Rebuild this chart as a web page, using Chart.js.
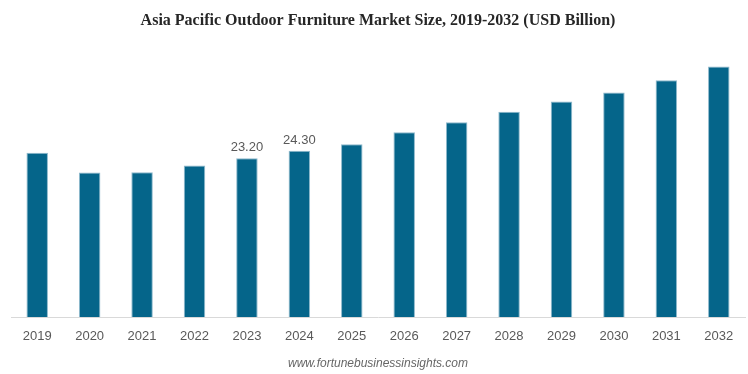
<!DOCTYPE html>
<html>
<head>
<meta charset="utf-8">
<script src="https://cdn.jsdelivr.net/npm/chart.js@4/dist/chart.umd.min.js"></script>
<style>
  html, body { margin: 0; padding: 0; background: #fff; }
  #wrap { width: 748px; height: 374px; position: relative; }
</style>
</head>
<body>
<div id="wrap"><canvas id="marketChart"></canvas></div>
<script>
const years = ['2019', '2020', '2021', '2022', '2023', '2024', '2025', '2026', '2027', '2028', '2029', '2030', '2031', '2032'];
const marketSize = [24.0, 21.1, 21.15, 22.15, 23.2, 24.3, 25.25, 26.98, 28.45, 30.0, 31.47, 32.78, 34.58, 36.58];
const labelledYears = ['2023', '2024'];

// value labels only above the two highlighted years
const valueLabels = {
  id: 'valueLabels',
  afterDatasetsDraw(chart) {
    const { ctx } = chart;
    const meta = chart.getDatasetMeta(0);
    ctx.save();
    ctx.font = '13px "Liberation Sans", Arial, sans-serif';
    ctx.fillStyle = '#595959';
    ctx.textAlign = 'center';
    ctx.textBaseline = 'bottom';
    meta.data.forEach((bar, i) => {
      if (!labelledYears.includes(years[i])) return;
      ctx.fillText(marketSize[i].toFixed(2), bar.x, bar.y - 4);
    });
    ctx.restore();
  },
};

new Chart(document.getElementById('marketChart'), {
  type: 'bar',
  data: {
    labels: years,
    datasets: [{
      data: marketSize,
      backgroundColor: '#05658a',
      borderColor: '#8fb9cc',
      borderWidth: 1,
      categoryPercentage: 1,
      barPercentage: 0.41,
    }],
  },
  options: {
    responsive: true,
    maintainAspectRatio: false,
    animation: false,
    layout: { padding: { top: 0, right: 3, bottom: 0, left: 11 } },
    scales: {
      x: {
        grid: { display: false, drawTicks: false },
        border: { display: true, color: '#d9d9d9', width: 1 },
        ticks: {
          padding: 12,
          color: '#595959',
          font: { family: '"Liberation Sans", Arial, sans-serif', size: 13 },
          maxRotation: 0,
        },
      },
      y: {
        display: false,
        min: 0,
        max: 40,
      },
    },
    plugins: {
      legend: { display: false },
      tooltip: { enabled: false },
      title: {
        display: true,
        text: 'Asia Pacific Outdoor Furniture Market Size, 2019-2032 (USD Billion)',
        color: '#262626',
        font: { family: '"Liberation Serif", "Times New Roman", serif', size: 16, weight: 'bold' },
        padding: { top: 11, bottom: 13 },
      },
      subtitle: {
        display: true,
        position: 'bottom',
        text: 'www.fortunebusinessinsights.com',
        color: '#666',
        font: { family: '"Liberation Sans", Arial, sans-serif', size: 12, style: 'italic' },
        padding: { top: 0, bottom: 3 },
      },
    },
  },
  plugins: [valueLabels],
});
</script>
</body>
</html>
